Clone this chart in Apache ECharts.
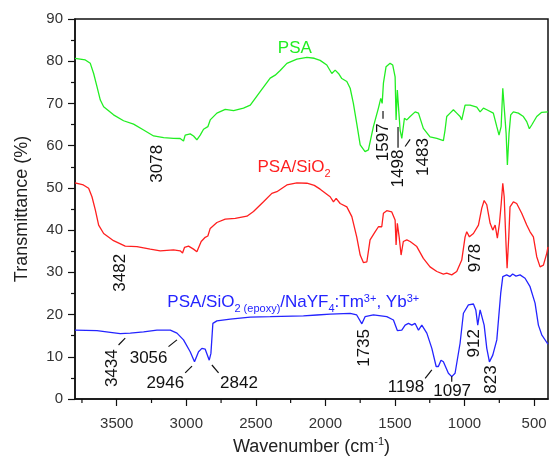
<!DOCTYPE html>
<html>
<head>
<meta charset="utf-8">
<script src="https://cdn.jsdelivr.net/npm/echarts@6/dist/echarts.min.js"></script>
<style>
  html, body { margin: 0; padding: 0; background: #fff; }
  #chart { width: 550px; height: 457px; }
</style>
</head>
<body>
<div id="chart"></div>
<script>
// FTIR spectra: [wavenumber (cm^-1), transmittance (%)]
const psa = [
  [3800,80.7],[3726,80.3],[3690,79.5],[3666,77.1],[3642,74.0],[3618,70.8],[3594,69.2],[3523,67.3],
  [3451,65.9],[3379,65.1],[3307,63.7],[3235,62.3],[3163,61.9],[3092,61.75],[3044,61.7],[3020,61.1],
  [3008,62.5],[2972,62.8],[2948,62.3],[2924,61.4],[2900,62.5],[2876,63.9],[2845,64.5],[2828,66.1],
  [2780,67.7],[2720,68.6],[2660,68.3],[2589,68.9],[2540,69.6],[2469,72.8],[2397,76.0],[2361,76.7],
  [2325,77.8],[2277,79.5],[2205,80.5],[2133,80.9],[2080,80.7],[2038,80.2],[1990,79.1],[1954,77.1],
  [1930,77.9],[1906,77.1],[1882,75.9],[1846,75.2],[1822,73.6],[1799,70.0],[1775,65.3],[1750,60.2],
  [1715,58.6],[1691,59.0],[1655,64.5],[1619,68.9],[1602,71.2],[1592,70.0],[1583,74.8],[1564,78.7],
  [1535,79.5],[1516,79.1],[1499,76.3],[1492,66.1],[1483,73.2],[1473,68.4],[1463,63.7],[1451,61.7],
  [1432,66.5],[1415,66.1],[1391,66.9],[1355,68.0],[1331,67.7],[1296,64.1],[1248,62.1],[1199,61.7],
  [1152,61.2],[1140,63.7],[1128,66.9],[1104,67.7],[1080,68.5],[1056,67.7],[1032,66.9],[1020,66.1],
  [996,69.6],[960,69.6],[912,69.1],[888,68.0],[864,68.9],[840,68.5],[793,67.7],[768,64.5],
  [752,62.5],[737,64.5],[725,73.6],[715,73.2],[701,62.9],[692,55.4],[680,62.9],[668,67.3],
  [649,68.0],[613,67.7],[577,66.9],[553,65.7],[534,64.0],[517,64.9],[481,66.9],[445,67.9],[400,68.0]
];

const psaSiO2 = [
  [3800,51.2],[3740,50.7],[3702,49.9],[3678,47.9],[3654,44.8],[3630,41.2],[3594,39.2],[3523,37.5],
  [3439,36.2],[3355,36.1],[3259,35.5],[3187,35.1],[3092,35.3],[3044,35.1],[3027,34.6],[3013,35.9],
  [2984,36.2],[2948,35.5],[2924,34.9],[2893,37.3],[2864,38.3],[2845,38.6],[2828,40.4],[2780,41.8],
  [2720,42.6],[2648,42.8],[2564,43.3],[2517,44.4],[2445,46.7],[2385,48.7],[2349,49.1],[2277,50.7],
  [2205,51.2],[2133,51.1],[2080,50.6],[2038,49.7],[1966,47.9],[1942,46.7],[1923,47.5],[1894,46.3],
  [1846,45.5],[1810,43.2],[1775,38.4],[1750,34.1],[1727,32.3],[1702,32.5],[1679,37.7],[1643,39.6],
  [1619,40.8],[1607,41.2],[1595,40.8],[1583,44.0],[1559,44.6],[1523,44.3],[1499,42.4],[1492,36.5],
  [1483,41.6],[1470,38.4],[1456,34.1],[1440,37.3],[1415,37.7],[1391,37.3],[1343,36.1],[1296,33.3],
  [1248,31.3],[1199,30.2],[1152,29.6],[1128,29.8],[1092,29.4],[1056,30.2],[1020,32.9],[996,38.4],
  [984,39.6],[965,38.4],[936,39.2],[900,41.2],[876,45.2],[859,47.0],[840,46.0],[816,41.6],
  [797,40.0],[780,41.2],[764,38.1],[749,41.6],[737,46.0],[725,51.1],[715,47.9],[701,36.1],
  [694,31.0],[682,38.4],[673,45.5],[649,46.7],[625,46.3],[589,44.0],[553,41.2],[529,39.6],
  [505,38.4],[481,33.7],[457,31.3],[433,31.7],[409,34.5],[400,36.0]
];

const psaSiO2Nayf4 = [
  [3800,16.3],[3642,16.2],[3546,15.8],[3475,15.5],[3403,15.6],[3307,15.9],[3211,16.3],[3115,16.3],
  [3067,15.6],[3020,14.0],[2972,11.2],[2941,8.8],[2912,11.2],[2888,12.0],[2864,11.8],[2852,12.0],
  [2835,9.2],[2823,10.8],[2809,17.9],[2780,18.5],[2684,18.9],[2541,19.4],[2397,19.5],[2158,19.7],
  [2061,19.9],[1966,20.1],[1822,20.3],[1775,19.9],[1738,17.8],[1715,19.5],[1655,19.9],[1559,19.5],
  [1511,18.7],[1483,16.2],[1451,16.3],[1427,17.5],[1403,17.9],[1379,17.5],[1355,17.9],[1331,16.3],
  [1307,17.5],[1271,15.6],[1235,12.0],[1204,7.7],[1188,7.7],[1169,9.2],[1152,8.8],[1116,6.1],
  [1092,5.3],[1068,6.1],[1032,13.2],[1008,20.3],[972,22.3],[936,22.5],[919,21.1],[905,17.5],
  [888,21.1],[876,21.5],[859,17.5],[840,12.0],[821,8.8],[797,10.4],[768,14.0],[740,25.0],
  [725,29.0],[697,29.4],[673,29.0],[654,29.6],[630,29.1],[601,29.4],[565,28.6],[529,26.6],
  [493,22.7],[469,17.5],[445,15.2],[405,13.2],[400,13.0]
];

// Axis ticks
const xMajorTicks = [3500, 3000, 2500, 2000, 1500, 1000, 500];
const xMinorTicks = [3750, 3250, 2750, 2250, 1750, 1250, 750];

// Band assignments, placed in data coordinates
const peakNotes = [
  { text: '3078', wn: 3205, t: 55.7, vertical: true },
  { text: '1597', wn: 1586, t: 60.8, vertical: true },
  { text: '1498', wn: 1476, t: 54.6, vertical: true },
  { text: '1483', wn: 1296, t: 57.3, vertical: true },
  { text: '3482', wn: 3471, t: 29.9, vertical: true },
  { text: '978',  wn: 924,  t: 33.4, vertical: true },
  { text: '3434', wn: 3534, t: 7.3,  vertical: true },
  { text: '3056', wn: 3271, t: 9.6,  vertical: false },
  { text: '2946', wn: 3151, t: 3.8,  vertical: false },
  { text: '2842', wn: 2621, t: 3.8,  vertical: false },
  { text: '1735', wn: 1720, t: 12.1, vertical: true },
  { text: '1198', wn: 1421, t: 2.7,  vertical: false },
  { text: '1097', wn: 1089, t: 1.9,  vertical: false },
  { text: '912',  wn: 930,  t: 13.2, vertical: true },
  { text: '823',  wn: 811,  t: 4.6,  vertical: true }
];

// Leader strokes from labels toward their bands
const leaders = [
  [[1586, 68.2], [1586, 66.4]],
  [[1478, 64.4], [1478, 59.5]],
  [[1427, 59.8], [1391, 61.5]],
  [[3487, 12.8], [3439, 14.4]],
  [[3128, 12.4], [3067, 14.0]],
  [[3008, 6.2],  [2959, 7.8]],
  [[2816, 8.05], [2768, 6.2]],
  [[1283, 4.9],  [1235, 6.9]],
  [[1092, 5.4],  [1092, 4.1]]
];

const GREEN = '#22ee22';
const RED = '#ff1f1f';
const BLUE = '#2424ff';
const FONT = "'Liberation Sans', Arial, Helvetica, sans-serif";

const seriesTags = [
  { text: 'PSA', wn: 2220, t: 83.1, color: GREEN },
  { text: '{m|PSA/SiO}{sub|2}', wn: 2225, t: 54.8, color: RED },
  { text: '{m|PSA/SiO}{sub|2 (epoxy)}{m|/NaYF}{sub|4}{m|:Tm}{sup|3+}{m|, Yb}{sup|3+}', wn: 2231, t: 22.9, color: BLUE }
];

const chart = echarts.init(document.getElementById('chart'), null, { renderer: 'canvas' });

const axisColor = '#111';
const tickStyle = { color: axisColor, width: 1.2 };
const plainNumber = function (v) { return String(v); };

function spectrum(name, data, color) {
  return {
    name: name,
    type: 'line',
    data: data,
    symbol: 'none',
    smooth: false,
    silent: true,
    lineStyle: { color: color, width: 1.3 },
    z: 3
  };
}

chart.setOption({
  animation: false,
  backgroundColor: '#fff',
  grid: {
    left: 75, right: 2, top: 19, bottom: 58,
    containLabel: false, outerBoundsMode: 'none',
    show: true, borderColor: axisColor, borderWidth: 1.5
  },
  xAxis: {
    type: 'value', inverse: true, min: 400, max: 3800,
    splitLine: { show: false },
    axisLine: { show: true, onZero: false, lineStyle: { color: axisColor, width: 1.5 } },
    axisTick: { show: true, customValues: xMajorTicks, length: 7, lineStyle: tickStyle },
    axisLabel: { customValues: xMajorTicks, formatter: plainNumber, fontSize: 15, color: '#333', margin: 17, fontFamily: FONT },
    name: '{a|Wavenumber (cm}{s|-1}{a|)}',
    nameLocation: 'middle',
    nameGap: 37,
    nameTextStyle: {
      rich: {
        a: { fontSize: 18, color: '#222', fontFamily: FONT, lineHeight: 22, verticalAlign: 'middle' },
        s: { fontSize: 11, color: '#222', fontFamily: FONT, lineHeight: 22, verticalAlign: 'top' }
      }
    }
  },
  yAxis: {
    type: 'value', min: 0, max: 90, interval: 10,
    splitLine: { show: false },
    axisLine: { show: true, lineStyle: { color: axisColor, width: 1.5 } },
    axisTick: { show: true, length: 7, lineStyle: tickStyle },
    minorTick: { show: true, splitNumber: 2, length: 4, lineStyle: tickStyle },
    axisLabel: { fontSize: 15, color: '#333', margin: 12, fontFamily: FONT },
    name: 'Transmittance (%)',
    nameLocation: 'middle',
    nameGap: 44,
    nameTextStyle: { fontSize: 18, color: '#222', fontFamily: FONT }
  },
  series: [
    spectrum('PSA', psa, GREEN),
    spectrum('PSA/SiO2', psaSiO2, RED),
    spectrum('PSA/SiO2(epoxy)/NaYF4:Tm3+, Yb3+', psaSiO2Nayf4, BLUE)
  ]
});

// Place labels, leader strokes and minor x ticks through the grid's own coordinate system
function toPx(wn, t) {
  return chart.convertToPixel({ gridIndex: 0 }, [wn, t]);
}

const graphics = [];

xMinorTicks.forEach(function (wn) {
  const p = toPx(wn, 0);
  graphics.push({
    type: 'line', z: 10, silent: true,
    shape: { x1: p[0], y1: p[1], x2: p[0], y2: p[1] + 4 },
    style: { stroke: axisColor, lineWidth: 1.2 }
  });
});

seriesTags.forEach(function (tag) {
  const p = toPx(tag.wn, tag.t);
  graphics.push({
    type: 'text', x: p[0], y: p[1], z: 10, silent: true,
    style: {
      text: tag.text, fill: tag.color, fontSize: 17, fontFamily: FONT,
      align: 'center', verticalAlign: 'middle',
      rich: {
        m: { fontSize: 17, fontFamily: FONT, fill: tag.color, lineHeight: 24, verticalAlign: 'middle' },
        sub: { fontSize: 11, fontFamily: FONT, fill: tag.color, lineHeight: 24, verticalAlign: 'bottom' },
        sup: { fontSize: 11, fontFamily: FONT, fill: tag.color, lineHeight: 22, verticalAlign: 'top', padding: [3, 0, 0, 0] }
      }
    }
  });
});

peakNotes.forEach(function (n) {
  const p = toPx(n.wn, n.t);
  graphics.push({
    type: 'text', x: p[0], y: p[1], z: 10, silent: true,
    rotation: n.vertical ? Math.PI / 2 : 0,
    style: {
      text: n.text, fill: '#111', fontSize: 17, fontFamily: FONT,
      align: 'center', verticalAlign: 'middle'
    }
  });
});

leaders.forEach(function (seg) {
  const a = toPx(seg[0][0], seg[0][1]);
  const b = toPx(seg[1][0], seg[1][1]);
  graphics.push({
    type: 'line', z: 10, silent: true,
    shape: { x1: a[0], y1: a[1], x2: b[0], y2: b[1] },
    style: { stroke: '#111', lineWidth: 1.2 }
  });
});

chart.setOption({ graphic: graphics });
</script>
</body>
</html>
